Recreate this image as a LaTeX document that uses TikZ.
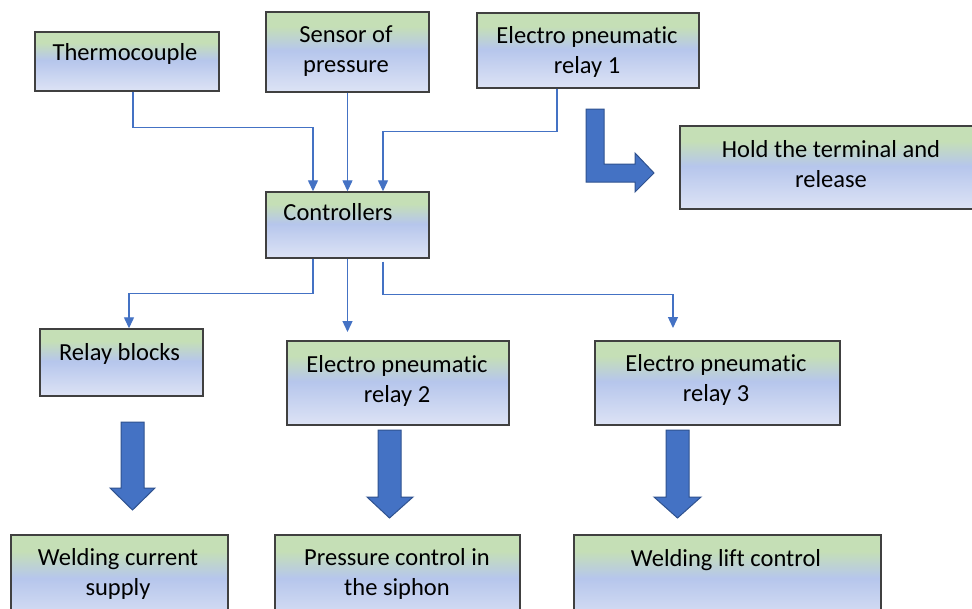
\documentclass[tikz,border=0pt]{standalone}
\usepackage{fontspec}
\setmainfont[Ligatures=NoCommon]{Carlito}
\usetikzlibrary{arrows.meta,calc}
\definecolor{linkblue}{HTML}{4472C4}
\definecolor{arrowedge}{HTML}{2F528F}
\definecolor{topgreen}{HTML}{C5DFB6}
\definecolor{midblue}{HTML}{B6C6EC}
\definecolor{botblue}{HTML}{DDE3F5}
\definecolor{boxedge}{HTML}{404040}
\pgfdeclareverticalshading{boxshade}{100bp}{color(0bp)=(botblue); color(25bp)=(botblue); color(51bp)=(midblue); color(66bp)=(topgreen); color(100bp)=(topgreen)}
\newcommand\lblfont{\fontsize{24.5}{30}\selectfont}
\tikzset{
  box/.style={draw=boxedge, line width=1.4pt, rectangle, inner sep=0pt,
    shading=boxshade},
  lbl/.style={anchor=north, inner sep=0pt, align=center, font=\lblfont, text=black},
  conn/.style={draw=linkblue, line width=1.3pt, -{Triangle[width=10pt,length=11pt]}},
  bigarrow/.style={fill=linkblue, draw=arrowedge, line width=1pt, line join=miter}
}
\begin{document}
\begin{tikzpicture}[x=1pt,y=-1pt]
\useasboundingbox (0,0) rectangle (972,608);
\clip (0,0) rectangle (972,608);
\fill[white] (0,0) rectangle (972,608);

% boxes
\node[box, minimum width=184pt, minimum height=59pt] (thermo) at (127,61.5) {};
\node[box, minimum width=163pt, minimum height=80pt] (sensor) at (347.5,52) {};
\node[box, minimum width=222pt, minimum height=75pt] (epr1) at (588,50.5) {};
\node[box, minimum width=295pt, minimum height=83pt] (hold) at (827.5,167.5) {};
\node[box, minimum width=163pt, minimum height=66pt] (ctrl) at (347.5,225) {};
\node[box, minimum width=163pt, minimum height=67pt] (relay) at (121.5,362.5) {};
\node[box, minimum width=222pt, minimum height=84pt] (epr2) at (398,383) {};
\node[box, minimum width=245pt, minimum height=84pt] (epr3) at (717.5,383) {};
\node[box, minimum width=217pt, minimum height=90pt] (weld) at (119.5,580) {};
\node[box, minimum width=245pt, minimum height=90pt] (press) at (397.5,580) {};
\node[box, minimum width=307pt, minimum height=90pt] (lift) at (727.5,580) {};

% labels
\node[lbl] (tthermo) at (125,39) {\strut Thermocouple};
\node[lbl] (tsensor) at (346,21) {\strut Sensor of\\\strut pressure};
\node[lbl] (tepr1) at (587,22) {\strut Electro pneumatic\\\strut relay 1};
\node[lbl] (thold) at (831,136) {\strut Hold the terminal and\\\strut release};
\node[lbl] (tctrl) at (338,199) {\strut Controllers};
\node[lbl] (trelay) at (119.5,339) {\strut Relay blocks};
\node[lbl] (tepr2) at (397,351) {\strut Electro pneumatic\\\strut relay 2};
\node[lbl] (tepr3) at (716,350) {\strut Electro pneumatic\\\strut relay 3};
\node[lbl] (tweld) at (118,544) {\strut Welding current\\\strut supply};
\node[lbl] (tpress) at (397,544) {\strut Pressure control in\\\strut the siphon};
\node[lbl] (tlift) at (726,545) {\strut Welding lift control};

% thin connectors into controllers
\draw[conn] ([xshift=6pt]thermo.south) -- ++(0,36) -| ([xshift=-34.5pt]ctrl.north);
\draw[conn] (sensor.south) -- (ctrl.north);
\draw[conn] ([xshift=-31pt]epr1.south) -- ++(0,43) -| ([xshift=35.5pt]ctrl.north);

% thin connectors out of controllers
\coordinate (c2) at (347.5,332);
\coordinate (c3) at (673,328);
\draw[conn] ([xshift=-34.5pt]ctrl.south) -- ++(0,35) -| ([xshift=7.5pt]relay.north);
\draw[conn] (ctrl.south) -- (c2);
\draw[conn] ([xshift=35.5pt,yshift=-3pt]ctrl.south) -- ++(0,33) -| (c3);

% block arrows
\draw[bigarrow] (586,109) -- (604,109) -- (604,164) -- (635,164) -- (635,153)
  -- (654,173) -- (635,192) -- (635,182) -- (586,182) -- cycle;
\draw[bigarrow] (121,422) -- (144,422) -- (144,488) -- (155,488) -- (132.5,510)
  -- (110,488) -- (121,488) -- cycle;
\draw[bigarrow] (378,430) -- (401,430) -- (401,497) -- (413,497) -- (389.5,518)
  -- (367,497) -- (378,497) -- cycle;
\draw[bigarrow] (666,430) -- (689,430) -- (689,497) -- (701,497) -- (677.5,518)
  -- (654,497) -- (666,497) -- cycle;
\end{tikzpicture}
\end{document}
